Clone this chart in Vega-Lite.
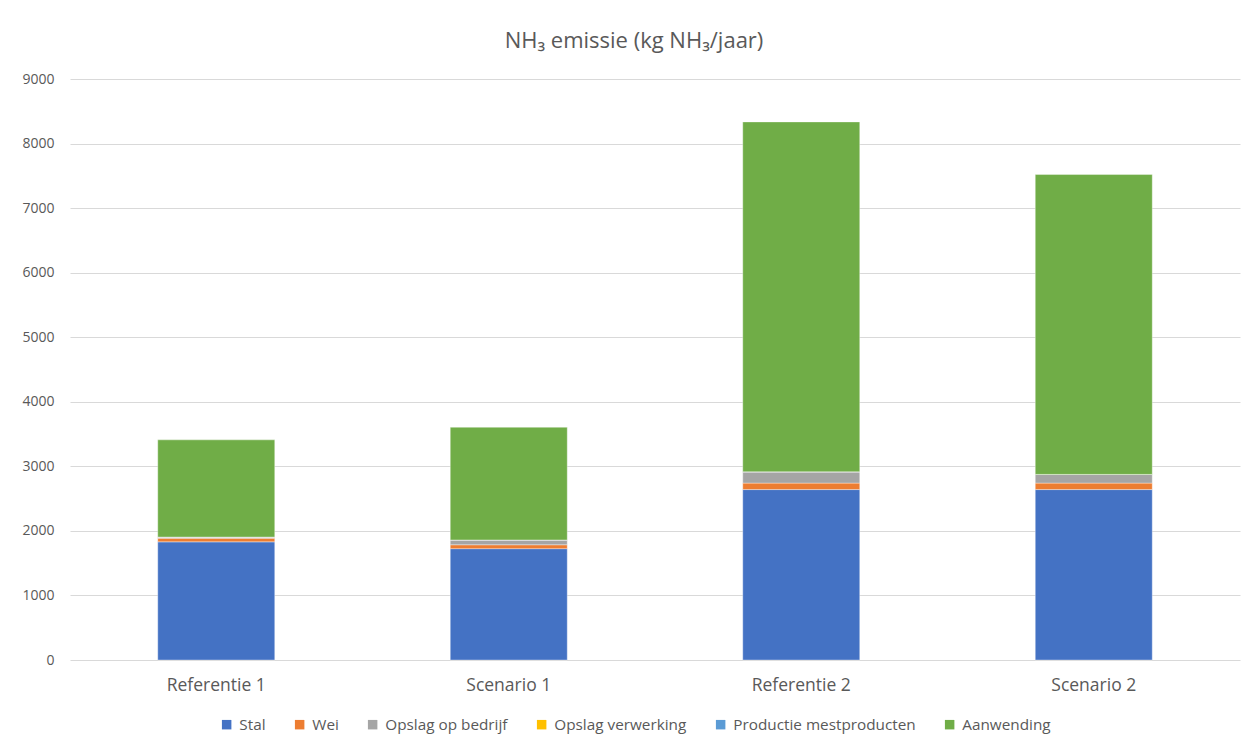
{
  "$schema": "https://vega.github.io/schema/vega-lite/v6.json",
  "width": 1170,
  "height": 581,
  "autosize": {"type": "none"},
  "padding": {"left": 70, "top": 79, "right": 16, "bottom": 86},
  "background": "white",
  "title": {
    "text": "NH₃ emissie (kg NH₃/jaar)",
    "font": "Open Sans",
    "fontSize": 22,
    "fontWeight": "normal",
    "color": "#595959",
    "anchor": "middle",
    "dx": -21,
    "offset": 19
  },
  "data": {
    "values": [
      {"scenario": "Referentie 1", "bron": "Stal", "emissie": 1830},
      {"scenario": "Referentie 1", "bron": "Wei", "emissie": 55},
      {"scenario": "Referentie 1", "bron": "Opslag op bedrijf", "emissie": 20},
      {"scenario": "Referentie 1", "bron": "Opslag verwerking", "emissie": 0},
      {"scenario": "Referentie 1", "bron": "Productie mestproducten", "emissie": 0},
      {"scenario": "Referentie 1", "bron": "Aanwending", "emissie": 1505},
      {"scenario": "Scenario 1", "bron": "Stal", "emissie": 1725},
      {"scenario": "Scenario 1", "bron": "Wei", "emissie": 60},
      {"scenario": "Scenario 1", "bron": "Opslag op bedrijf", "emissie": 75},
      {"scenario": "Scenario 1", "bron": "Opslag verwerking", "emissie": 0},
      {"scenario": "Scenario 1", "bron": "Productie mestproducten", "emissie": 0},
      {"scenario": "Scenario 1", "bron": "Aanwending", "emissie": 1745},
      {"scenario": "Referentie 2", "bron": "Stal", "emissie": 2640},
      {"scenario": "Referentie 2", "bron": "Wei", "emissie": 100},
      {"scenario": "Referentie 2", "bron": "Opslag op bedrijf", "emissie": 175},
      {"scenario": "Referentie 2", "bron": "Opslag verwerking", "emissie": 0},
      {"scenario": "Referentie 2", "bron": "Productie mestproducten", "emissie": 0},
      {"scenario": "Referentie 2", "bron": "Aanwending", "emissie": 5420},
      {"scenario": "Scenario 2", "bron": "Stal", "emissie": 2640},
      {"scenario": "Scenario 2", "bron": "Wei", "emissie": 100},
      {"scenario": "Scenario 2", "bron": "Opslag op bedrijf", "emissie": 135},
      {"scenario": "Scenario 2", "bron": "Opslag verwerking", "emissie": 0},
      {"scenario": "Scenario 2", "bron": "Productie mestproducten", "emissie": 0},
      {"scenario": "Scenario 2", "bron": "Aanwending", "emissie": 4645}
    ]
  },
  "transform": [
    {"calculate": "indexof(['Stal','Wei','Opslag op bedrijf','Opslag verwerking','Productie mestproducten','Aanwending'], datum.bron)", "as": "volgorde"}
  ],
  "mark": {"type": "bar", "stroke": "white", "strokeWidth": 0.6, "strokeOpacity": 0.6},
  "encoding": {
    "x": {
      "field": "scenario",
      "type": "nominal",
      "sort": ["Referentie 1", "Scenario 1", "Referentie 2", "Scenario 2"],
      "scale": {"paddingInner": 0.6, "paddingOuter": 0.3},
      "axis": {
        "title": null,
        "labelAngle": 0,
        "labelFont": "Open Sans",
        "labelFontSize": 17.5,
        "labelColor": "#595959",
        "labelPadding": 16,
        "ticks": false,
        "domain": false
      }
    },
    "y": {
      "field": "emissie",
      "type": "quantitative",
      "stack": "zero",
      "scale": {"domain": [0, 9000], "nice": false},
      "axis": {
        "title": null,
        "values": [0, 1000, 2000, 3000, 4000, 5000, 6000, 7000, 8000, 9000],
        "format": "d",
        "labelFont": "Open Sans",
        "labelFontSize": 14,
        "labelColor": "#595959",
        "labelPadding": 16,
        "ticks": false,
        "domain": false,
        "grid": true,
        "gridColor": "#d9d9d9",
        "gridWidth": 1
      }
    },
    "color": {
      "field": "bron",
      "type": "nominal",
      "scale": {
        "domain": ["Stal", "Wei", "Opslag op bedrijf", "Opslag verwerking", "Productie mestproducten", "Aanwending"],
        "range": ["#4472C4", "#ED7D31", "#A5A5A5", "#FFC000", "#5B9BD5", "#70AD47"]
      },
      "legend": {
        "title": null,
        "orient": "none",
        "legendX": 149,
        "legendY": 638,
        "direction": "horizontal",
        "columns": 6,
        "symbolType": "square",
        "symbolSize": 90,
        "symbolStrokeWidth": 0,
        "labelFont": "Open Sans",
        "labelFontSize": 15.3,
        "labelLimit": 0,
        "labelColor": "#595959",
        "labelOffset": 5,
        "columnPadding": 26
      }
    },
    "order": {"field": "volgorde", "type": "quantitative", "sort": "ascending"}
  },
  "config": {
    "view": {"stroke": null}
  }
}
